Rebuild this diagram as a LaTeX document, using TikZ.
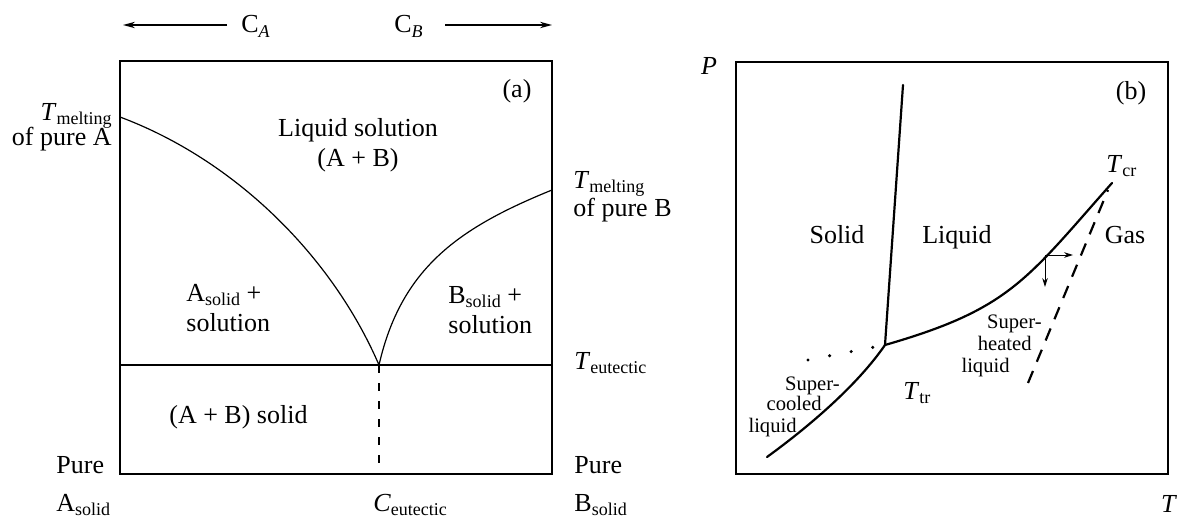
\documentclass[tikz,border=0pt]{standalone}
\usepackage{fontspec}
\setmainfont{Liberation Serif}
\usetikzlibrary{arrows.meta}
\newcommand{\lowsub}[1]{\raisebox{-2pt}{\fontsize{9}{9}\selectfont #1}}

\begin{document}
\begin{tikzpicture}[x=0.5pt,y=-0.5pt,
  txt/.style={inner sep=0pt,font=\fontsize{13}{15}\selectfont},
  txts/.style={inner sep=0pt,font=\fontsize{10.3}{11}\selectfont},
  frm/.style={line width=0.6pt},
  phase/.style={line width=1.1pt,line cap=round},
  axarr/.style={-{Stealth[length=6pt,width=3.2pt]},line width=0.6pt},
  smarr/.style={-{Stealth[length=4.5pt,width=2.8pt]},line width=0.5pt}]
\useasboundingbox (0,0) rectangle (1178,519);

% (a) eutectic diagram
\draw[frm] (120,61) rectangle (552,474);
\coordinate (MA) at (120,117);
\coordinate (MB) at (552,190);
\coordinate (Eu) at (379,365);
\coordinate (EuL) at (120,365);
\coordinate (EuR) at (552,365);
\coordinate (EuB) at (379,474);
\draw[frm] (EuL) -- (EuR);
\draw[frm] (MA) .. controls (235,160) and (332,256) .. (Eu)
   .. controls (401.3,267.5) and (459.4,227.6) .. (MB);
\draw[frm,dash pattern=on 4pt off 5pt] (Eu) -- (EuB);
\coordinate (CAtail) at (227,25);
\coordinate (CAtip) at (123,25);
\coordinate (CBtail) at (445,25);
\coordinate (CBtip) at (552,25);
\draw[axarr] (CAtail) -- (CAtip);
\draw[axarr] (CBtail) -- (CBtip);
\node[txt,anchor=base west] (CA) at (241,33) {C\lowsub{\textit{A}}};
\node[txt,anchor=base west] (CB) at (394,33) {C\lowsub{\textit{B}}};
\node[txt] (tagA) at (517,91) {(a)};
\node[txt,anchor=base] (liq) at (358,137) {Liquid solution};
\node[txt,anchor=base] (liqAB) at (358,167) {(A + B)};
\node[txt,anchor=base east] (TmA) at (112,120) {\textit{T}\lowsub{melting}};
\node[txt,anchor=base east] (pureA) at (112,146) {of pure A};
\node[txt,anchor=base west] (TmB) at (573,188) {\textit{T}\lowsub{melting}};
\node[txt,anchor=base west] (pureB) at (573,216) {of pure B};
\node[txt,anchor=base west] (Asol) at (186,301) {A\lowsub{solid} +};
\node[txt,anchor=base west] (Asoln) at (186,331) {solution};
\node[txt,anchor=base west] (Bsol) at (448,303) {B\lowsub{solid} +};
\node[txt,anchor=base west] (Bsoln) at (448,333) {solution};
\node[txt,anchor=base west] (Teu) at (574,369) {\textit{T}\lowsub{eutectic}};
\node[txt,anchor=base west] (ABs) at (169,423) {(A + B) solid};
\node[txt,anchor=base west] (PureL) at (56,473) {Pure};
\node[txt,anchor=base west] (PureR) at (574,473) {Pure};
\node[txt,anchor=base west] (AsolB) at (56,511) {A\lowsub{solid}};
\node[txt,anchor=base west] (Ceu) at (373,511) {\textit{C}\lowsub{eutectic}};
\node[txt,anchor=base west] (BsolB) at (574,511) {B\lowsub{solid}};

% (b) P-T diagram
\draw[frm] (736,62) rectangle (1168,474);
\coordinate (TP) at (885,345);
\coordinate (TC) at (1112,183);
\coordinate (SL) at (903,85);
\coordinate (SC) at (767,457);
\coordinate (DT) at (808,360);
\coordinate (DH1) at (1028,383);
\coordinate (DH2) at (1108,190);
\coordinate (AR) at (1045,255);
\coordinate (ARx) at (1073,255);
\coordinate (ARy) at (1045,287);
\draw[phase] (TP) -- (SL);
\draw[phase] (SC) .. controls (807.5,427.6) and (856.6,386.2) .. (TP)
   .. controls (1010,309) and (1026,280) .. (TC);
\draw[line width=1.7pt,line cap=round,dash pattern=on 0pt off 11pt] (DT) -- (TP);
\draw[line width=1.1pt,dash pattern=on 6.5pt off 5pt] (DH1) -- (DH2);
\draw[smarr] (AR) -- (ARx);
\draw[smarr] (AR) -- (ARy);
\node[txt] (Pax) at (709,66) {\textit{P}};
\node[txt] (Tax) at (1169,504) {\textit{T}};
\node[txt] (tagB) at (1131,93) {(b)};
\node[txt,anchor=base] (sol) at (837,243) {Solid};
\node[txt,anchor=base] (lqd) at (957,243) {Liquid};
\node[txt,anchor=base] (gas) at (1125,243) {Gas};
\node[txt,anchor=base west] (Tcr) at (1106,172) {\textit{T}\lowsub{cr}};
\node[txt,anchor=base west] (Ttr) at (903,399) {\textit{T}\lowsub{tr}};
\foreach \x/\y/\1 in {1042/328/Super-,1032/350/heated,1010/372/liquid} {
   \node[txts,anchor=base east] at (\x,\y) {\1};
}
\foreach \x/\y/\1 in {840/390/Super-,822/410/cooled,797/432/liquid} {
   \node[txts,anchor=base east] at (\x,\y) {\1};
}
\end{tikzpicture}
\end{document}
